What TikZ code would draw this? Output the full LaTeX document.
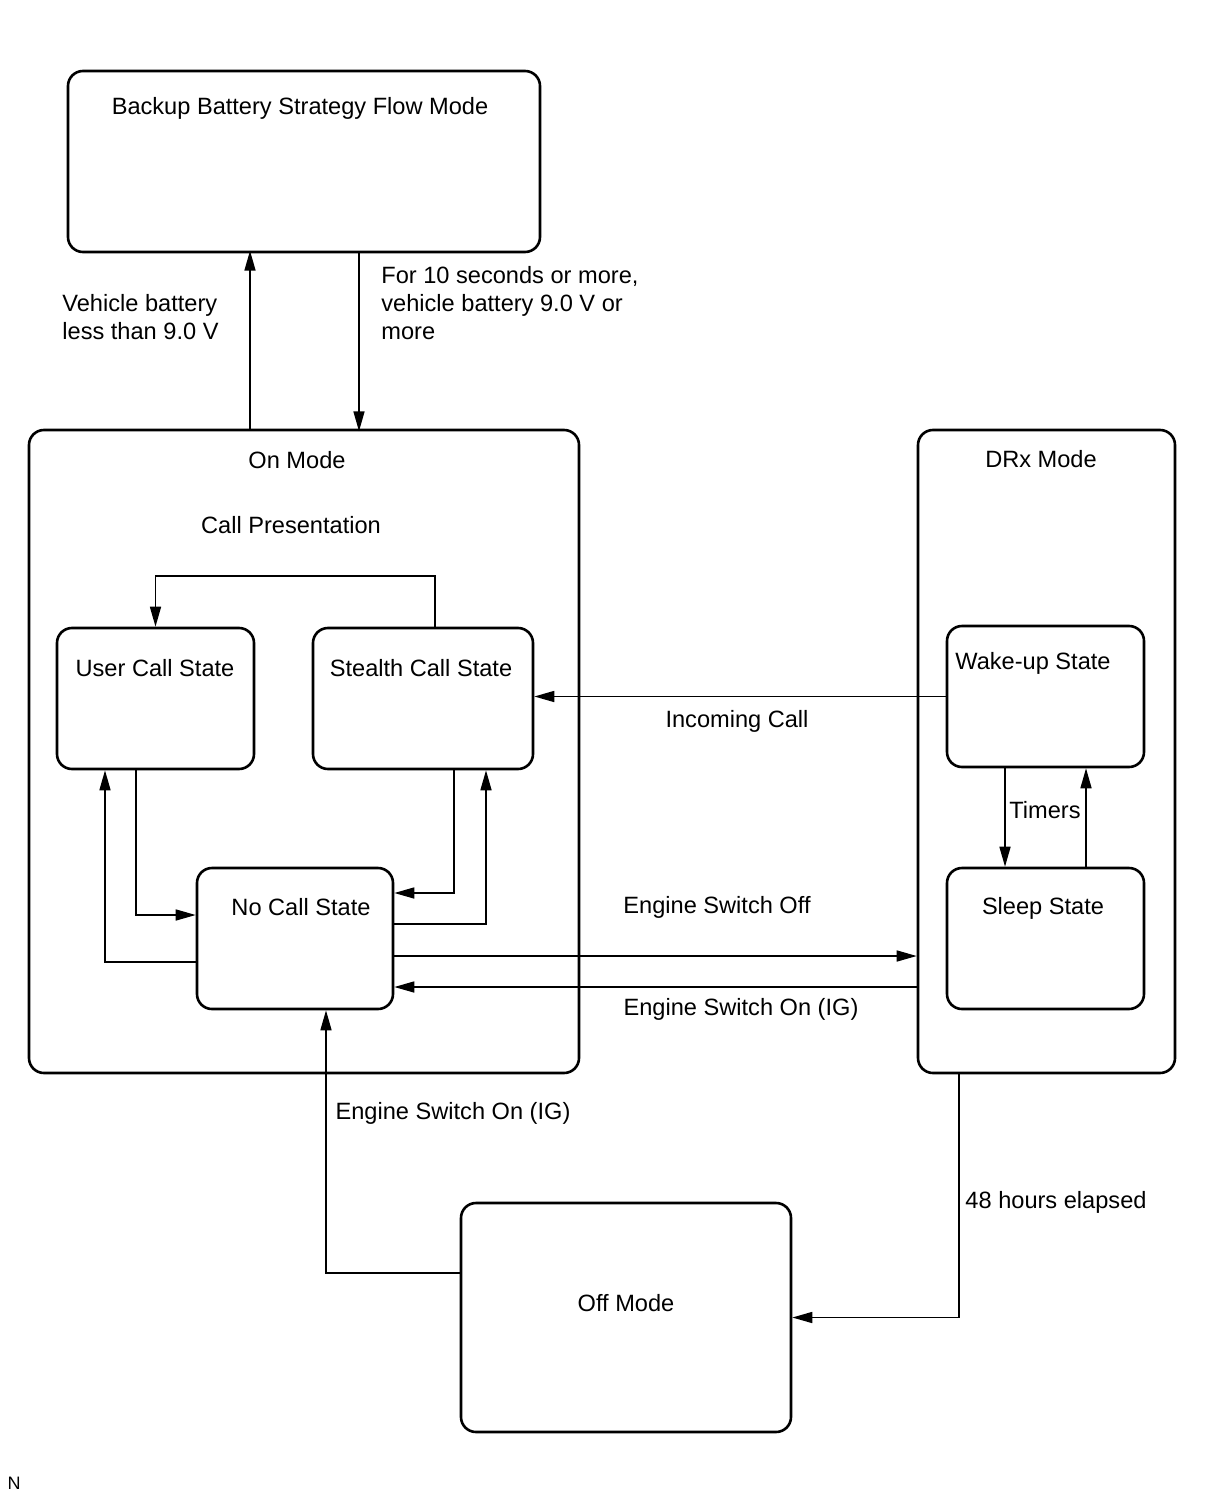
\documentclass[tikz,border=0pt]{standalone}
\usepackage{fontspec}
\setmainfont{Liberation Sans}
\usetikzlibrary{arrows.meta}
\tikzset{
  box/.style={draw, line width=1.3pt, rounded corners=7.5pt, inner sep=0pt},
  title/.style={anchor=base, inner sep=0pt},
  tag/.style={anchor=north west, inner sep=0pt, align=left},
  arr/.style={line width=.8pt, -{Triangle[length=10pt,width=5.5pt]}}
}
\begin{document}
\begin{tikzpicture}[x=0.5pt, y=-0.5pt, font=\fontsize{11.8}{14}\selectfont]
  \useasboundingbox (0,0) rectangle (1210,1498);
  % modes
  \node[box, minimum width=236pt, minimum height=90.5pt]  (bat)     at (304,161.5)   {};
  \node[box, minimum width=275pt, minimum height=321.5pt] (on)      at (304,751.5)   {};
  \node[box, minimum width=128.5pt, minimum height=321.5pt] (drx)   at (1046.5,751.5) {};
  \node[box, minimum width=165pt, minimum height=114.5pt] (off)     at (626,1317.5)  {};
  % states
  \node[box, minimum width=98.5pt, minimum height=70.5pt] (user)    at (155.5,698.5) {};
  \node[box, minimum width=110pt, minimum height=70.5pt]  (stealth) at (423,698.5)   {};
  \node[box, minimum width=98pt, minimum height=70.5pt]   (nocall)  at (295,938.5)   {};
  \node[box, minimum width=98.5pt, minimum height=70.5pt] (wake)    at (1045.5,696.5) {};
  \node[box, minimum width=98.5pt, minimum height=70.5pt] (sleep)   at (1045.5,938.5) {};
  % titles
  \node[title] (battitle)     at (300,115)  {Backup Battery Strategy Flow Mode};
  \node[title] (ontitle)      at (297,468)  {On Mode};
  \node[title] (present)      at (291,533)  {Call Presentation};
  \node[title] (usertitle)    at (155,676)  {User Call State};
  \node[title] (stealthtitle) at (421,676)  {Stealth Call State};
  \node[title] (nocalltitle)  at (301,915)  {No Call State};
  \node[title] (drxtitle)     at (1041,467) {DRx Mode};
  \node[title] (waketitle)    at (1033,669) {Wake-up State};
  \node[title] (sleeptitle)   at (1043,914) {Sleep State};
  \node[title] (offtitle)     at (626,1311) {Off Mode};
  % transitions
  \draw[arr] ([xshift=-27pt]on.north) -- ++(0,-178);
  \draw[arr] ([xshift=27.5pt]bat.south) -- ++(0,178);
  \draw[arr] ([xshift=6pt]stealth.north) -- ++(0,-51) -| (user.north);
  \draw[arr] ([xshift=-9.75pt]user.south) |- ([yshift=11.75pt]nocall.west);
  \draw[arr] ([yshift=-11.75pt]nocall.west) -| ([xshift=-25.25pt]user.south);
  \draw[arr] ([xshift=15.5pt]stealth.south) |- ([yshift=22.75pt]nocall.east);
  \draw[arr] ([yshift=7.25pt]nocall.east) -| ([xshift=31.5pt]stealth.south);
  \draw[arr] (wake.west) -- (wake.west -| stealth.east);
  \draw[arr] ([xshift=-20.25pt]wake.south) -- ([xshift=-20.25pt]sleep.north);
  \draw[arr] ([xshift=20.25pt]sleep.north) -- ([xshift=20.25pt]wake.south);
  \draw[arr] ([yshift=-8.75pt]nocall.east) -- ([yshift=-8.75pt]nocall.east -| drx.west);
  \draw[arr] ([yshift=-24.25pt]nocall.east -| drx.west) -- ([yshift=-24.25pt]nocall.east);
  \draw[arr] ([yshift=22.25pt]off.west) -| ([xshift=15.5pt]nocall.south);
  \draw[arr] ([xshift=-43.75pt]drx.south) |- (off.east);
  % labels
  \node[tag] (lowbat)  at (62,294)  {Vehicle battery\\less than 9.0 V};
  \node[tag] (okbat)   at (381,266) {For 10 seconds or more,\\vehicle battery 9.0 V or\\more};
  \node[title] (incoming) at (737,727)  {Incoming Call};
  \node[title] (timers)   at (1045,818) {Timers};
  \node[title] (engoff)   at (717,913)  {Engine Switch Off};
  \node[title] (engon)    at (741,1015) {Engine Switch On (IG)};
  \node[title] (engonoff) at (453,1119) {Engine Switch On (IG)};
  \node[title] (elapsed)  at (1056,1208) {48 hours elapsed};
  \node[title, font=\fontsize{9}{11}\selectfont] (mark) at (14,1489) {N};
\end{tikzpicture}
\end{document}
